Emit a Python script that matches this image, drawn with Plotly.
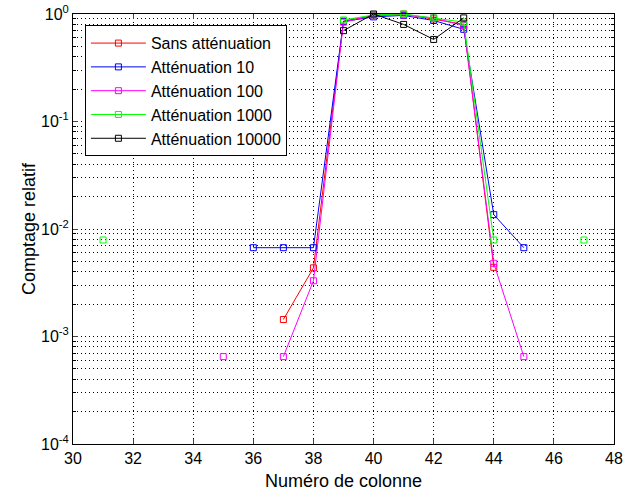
import plotly.graph_objects as go

columns = list(range(31, 48))  # 31..47

def series(d):
    return [d.get(c) for c in columns]

sans_att = series({37: 1.44e-3, 38: 4.35e-3, 39: 0.86, 40: 0.97, 41: 1.0, 42: 0.90, 43: 0.80, 44: 4.4e-3})
att_10 = series({36: 6.7e-3, 37: 6.7e-3, 38: 6.7e-3, 39: 0.85, 40: 0.94, 41: 0.97, 42: 0.87, 43: 0.72, 44: 1.36e-2, 45: 6.7e-3})
att_100 = series({35: 6.5e-4, 37: 6.5e-4, 38: 3.3e-3, 39: 0.84, 40: 0.97, 41: 0.98, 42: 0.92, 43: 0.78, 44: 4.8e-3, 45: 6.5e-4})
att_1000 = series({31: 7.9e-3, 39: 0.88, 40: 0.98, 41: 1.0, 42: 0.92, 43: 0.84, 44: 7.9e-3, 47: 7.9e-3})
att_10000 = series({39: 0.70, 40: 1.0, 41: 0.80, 42: 0.58, 43: 0.92})

names = ["Sans atténuation", "Atténuation 10", "Atténuation 100", "Atténuation 1000", "Atténuation 10000"]
colors = ["#ff0000", "#0000ff", "#ff00ff", "#00ff00", "#000000"]
all_series = [sans_att, att_10, att_100, att_1000, att_10000]

y_tickvals = [1e-4, 1e-3, 1e-2, 1e-1, 1]
y_ticktext = ["10<sup>-4</sup>", "10<sup>-3</sup>", "10<sup>-2</sup>", "10<sup>-1</sup>", "10<sup>0</sup>"]
x_ticks = list(range(30, 49, 2))

fig = go.Figure()
for name, col, ys in zip(names, colors, all_series):
    fig.add_trace(go.Scatter(
        x=columns, y=ys, name=name, mode="lines+markers",
        line=dict(color=col, width=1),
        marker=dict(symbol="square-open", size=6, color=col, line=dict(width=1, color=col)),
        connectgaps=False, cliponaxis=False,
    ))

font = "Liberation Sans, Arial, Helvetica, sans-serif"
grid = dict(showgrid=True, gridcolor="#000000", gridwidth=1, griddash="1px,3px")

fig.update_layout(
    width=628, height=497,
    margin=dict(l=73, r=14, t=14, b=53),
    paper_bgcolor="white", plot_bgcolor="white",
    font=dict(family=font, size=16, color="black"),
    showlegend=True,
    legend=dict(x=0.022, y=0.974, xanchor="left", yanchor="top",
                bgcolor="white", bordercolor="black", borderwidth=1,
                font=dict(family=font, size=16, color="black"), tracegroupgap=0, itemwidth=55),
    xaxis=dict(range=[30, 48], tickvals=x_ticks, ticks="inside", ticklen=5,
               showline=True, linecolor="black", linewidth=1, mirror="ticks",
               zeroline=False, automargin=False,
               title=dict(text="Numéro de colonne", font=dict(size=18), standoff=8),
               tickfont=dict(size=16), **grid),
    yaxis=dict(type="log", range=[-4, 0], tickvals=y_tickvals, ticktext=y_ticktext,
               ticks="inside", ticklen=5,
               showline=True, linecolor="black", linewidth=1, mirror="ticks",
               zeroline=False, automargin=False,
               title=dict(text="Comptage relatif", font=dict(size=18), standoff=0),
               tickfont=dict(size=16),
               minor=dict(dtick="D1", ticks="inside", ticklen=3, tickcolor="black",
                          showgrid=True, gridcolor="#000000", gridwidth=1, griddash="1px,3px"),
               **grid),
)

fig.write_html("out.html", config={"displayModeBar": False},
               post_script="document.body.style.margin='0';document.body.style.overflow='hidden';")
